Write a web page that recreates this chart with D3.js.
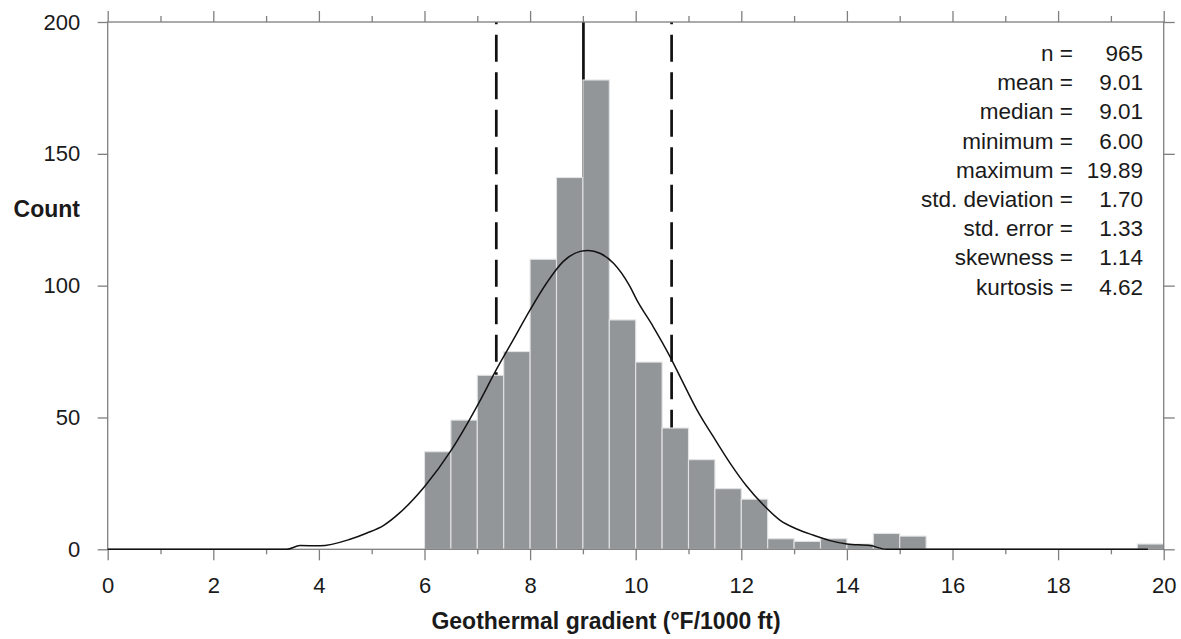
<!DOCTYPE html>
<html>
<head>
<meta charset="utf-8">
<script src="https://cdn.jsdelivr.net/npm/d3@7"></script>
<style>
  html, body { margin: 0; padding: 0; background: #fff; }
  svg { display: block; }
  text { font-family: "Liberation Sans", Arial, Helvetica, sans-serif; fill: #1a1a1a; }
</style>
</head>
<body>
<svg id="chart" width="1181" height="639"></svg>
<script>
// ---- data ----
const binStarts = [6.0, 6.5, 7.0, 7.5, 8.0, 8.5, 9.0, 9.5, 10.0, 10.5, 11.0, 11.5, 12.0, 12.5, 13.0, 13.5, 14.0, 14.5, 15.0, 19.5];
const binCounts = [37, 49, 66, 75, 110, 141, 178, 87, 71, 46, 34, 23, 19, 4, 3, 4, 2, 6, 5, 2];
const binWidth = 0.5;

const curveX = [0, 3.39, 3.64, 4.02, 4.59, 4.9, 5.22, 5.54, 6.01, 6.51, 7.05, 7.34, 7.68, 8.0, 8.31, 8.63, 8.95, 9.10, 9.32, 9.58, 9.89, 10.02, 10.33, 10.65, 10.84, 11.06, 11.16, 11.47, 11.79, 12.10, 12.42, 12.73, 13.05, 13.36, 13.68, 14.0, 14.44, 14.75, 19.7];
const curveY = [0, 0, 1.4, 1.3, 3.8, 6.1, 9, 14, 24, 37.7, 56.3, 67.4, 79.4, 90.8, 100.9, 109.2, 113, 113.3, 112.3, 108.5, 99.7, 94.6, 84.5, 73.1, 65.5, 56.7, 52.9, 42.7, 32.6, 24, 16.8, 11.1, 7.7, 5.4, 3.3, 2.0, 1.4, 0, 0];

const meanValue = 9.01;
const sdLines = [7.36, 10.68];

const xTickValues = [0, 2, 4, 6, 8, 10, 12, 14, 16, 18, 20];
const xMinorTicks = [1, 3, 5, 7, 9, 11, 13, 15, 17, 19];
const yTickValues = [0, 50, 100, 150, 200];

const statLabels = ["n =", "mean =", "median =", "minimum =", "maximum =", "std. deviation =", "std. error =", "skewness =", "kurtosis ="];
const statValues = ["965", "9.01", "9.01", "6.00", "19.89", "1.70", "1.33", "1.14", "4.62"];

const xTitle = "Geothermal gradient (\u00B0F/1000 ft)";
const yTitle = "Count";

// ---- layout ----
const svg = d3.select("#chart");
const x = d3.scaleLinear().domain([0, 20]).range([107.7, 1163.7]);
const y = d3.scaleLinear().domain([0, 200]).range([549.3, 22]);
const axisColor = "#7f7f7f";

// reference lines (behind bars)
svg.append("line")
  .attr("x1", x(meanValue)).attr("x2", x(meanValue))
  .attr("y1", y(200)).attr("y2", y(0))
  .attr("stroke", "#111").attr("stroke-width", 2.7);

svg.selectAll("path.sd").data(sdLines).enter().append("path")
  .attr("class", "sd")
  .attr("d", d => `M${x(d)},${y(0)}V${y(200)}`)
  .attr("stroke", "#111").attr("stroke-width", 2.7)
  .attr("stroke-dasharray", "27,10.5")
  .attr("fill", "none");

// bars
svg.selectAll("rect.bar").data(binStarts).enter().append("rect")
  .attr("class", "bar")
  .attr("x", d => x(d))
  .attr("width", d => x(d + binWidth) - x(d))
  .attr("y", (d, i) => y(binCounts[i]))
  .attr("height", (d, i) => y(0) - y(binCounts[i]))
  .attr("fill", "#939698")
  .attr("stroke", "#e2e3e4")
  .attr("stroke-width", 1.1);

// axes
function styleAxis(g) {
  g.select(".domain").remove();
  g.selectAll(".tick line").attr("stroke", axisColor).attr("stroke-width", 1.3);
  g.selectAll(".tick text").attr("font-size", "22px").attr("fill", "#1a1a1a")
    .attr("font-family", '"Liberation Sans", Arial, Helvetica, sans-serif');
}

// frame
svg.append("rect")
  .attr("x", x(0)).attr("y", y(200))
  .attr("width", x(20) - x(0)).attr("height", y(0) - y(200))
  .attr("fill", "none").attr("stroke", axisColor).attr("stroke-width", 1.3);

svg.append("g").attr("transform", `translate(0,${y(0)})`)
  .call(d3.axisBottom(x).tickValues(xTickValues).tickSize(11).tickPadding(17).tickFormat(d3.format("d")))
  .call(styleAxis);
svg.append("g").attr("transform", `translate(0,${y(0)})`)
  .call(d3.axisBottom(x).tickValues(xMinorTicks).tickSize(5).tickFormat(""))
  .call(styleAxis);
svg.append("g").attr("transform", `translate(0,${y(200)})`)
  .call(d3.axisTop(x).tickValues(xTickValues).tickSize(11).tickFormat(""))
  .call(styleAxis);
svg.append("g").attr("transform", `translate(0,${y(200)})`)
  .call(d3.axisTop(x).tickValues(xMinorTicks).tickSize(6).tickFormat(""))
  .call(styleAxis);
svg.append("g").attr("transform", `translate(${x(0)},0)`)
  .call(d3.axisLeft(y).tickValues(yTickValues).tickSize(10).tickPadding(17.5).tickFormat(d3.format("d")))
  .call(styleAxis);
svg.append("g").attr("transform", `translate(${x(20)},0)`)
  .call(d3.axisRight(y).tickValues(yTickValues).tickSize(11).tickFormat(""))
  .call(styleAxis);

// fitted curve
const pts = curveX.map((d, i) => [d, curveY[i]]);
svg.append("path")
  .datum(pts)
  .attr("d", d3.line().x(d => x(d[0])).y(d => y(d[1])).curve(d3.curveMonotoneX))
  .attr("fill", "none").attr("stroke", "#111").attr("stroke-width", 1.5);

// titles
svg.append("text")
  .attr("x", 606).attr("y", 628.5)
  .attr("text-anchor", "middle")
  .attr("font-size", "23px").attr("font-weight", "bold")
  .text(xTitle);
svg.append("text")
  .attr("x", 80).attr("y", 217)
  .attr("text-anchor", "end")
  .attr("font-size", "23px").attr("font-weight", "bold")
  .text(yTitle);

// stats block
const stats = svg.append("g");
statLabels.forEach((lab, i) => {
  const by = 61 + i * 29.2;
  stats.append("text").attr("x", 1073).attr("y", by).attr("text-anchor", "end")
    .attr("font-size", "22.5px").text(lab);
  stats.append("text").attr("x", 1143).attr("y", by).attr("text-anchor", "end")
    .attr("font-size", "22.5px").text(statValues[i]);
});
</script>
</body>
</html>
